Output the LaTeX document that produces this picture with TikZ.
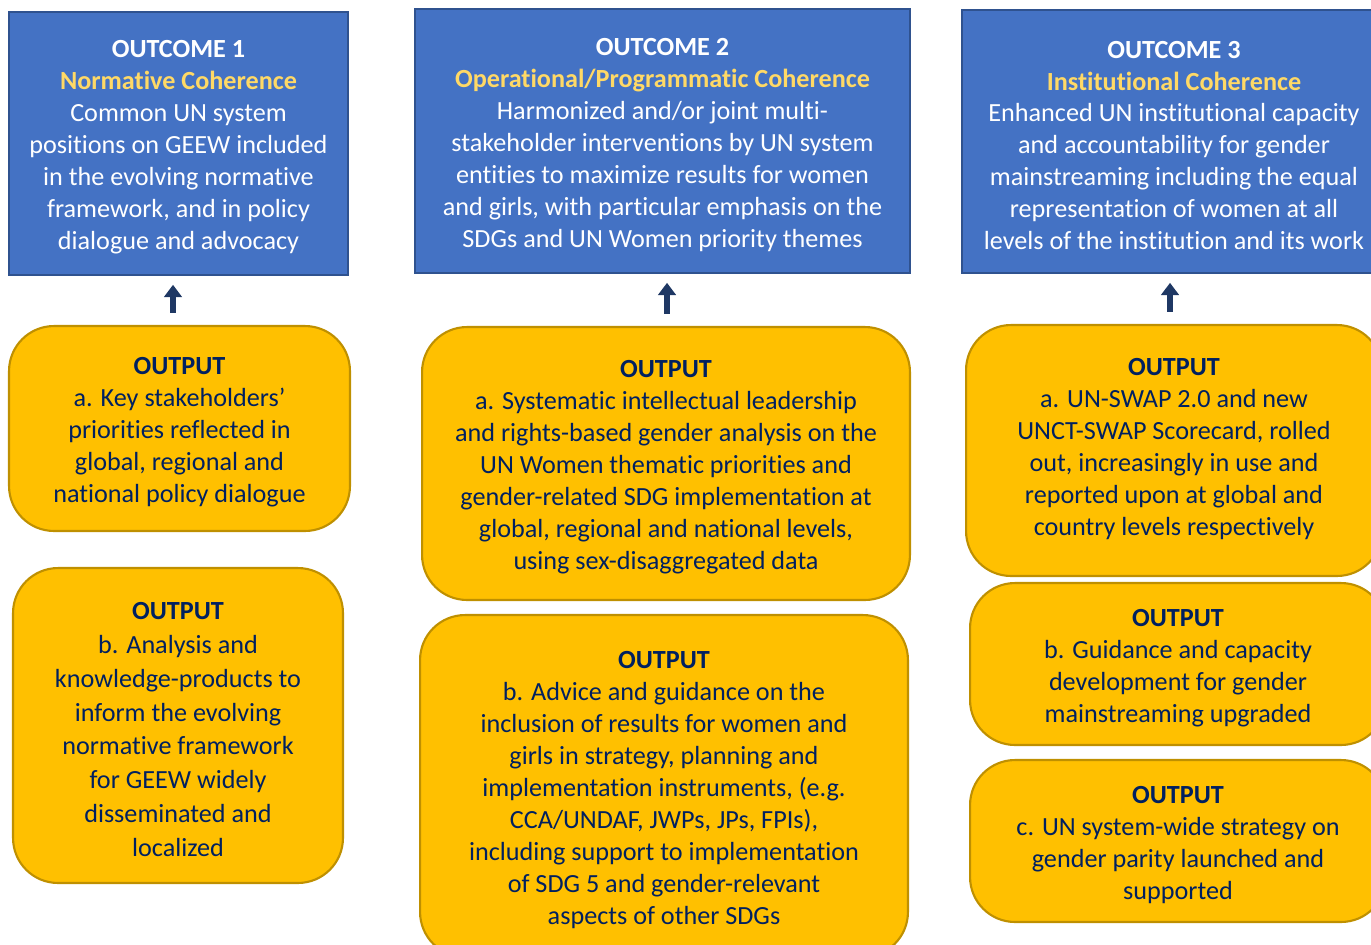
\documentclass[tikz,border=0pt]{standalone}
\usepackage{fontspec}
\setmainfont{Carlito}[Ligatures=NoCommon]
\usetikzlibrary{arrows.meta}
\definecolor{oc_blue}{RGB}{68, 114, 196}
\definecolor{oc_edge}{RGB}{47, 82, 143}
\definecolor{oc_title}{RGB}{255, 217, 102}
\definecolor{op_gold}{RGB}{255, 192, 0}
\definecolor{op_edge}{RGB}{191, 144, 0}
\definecolor{op_text}{RGB}{0, 32, 96}
\definecolor{up_arrow}{RGB}{31, 56, 100}
\tikzstyle{oc}=[rectangle,fill=oc_blue,draw=oc_edge,line width=1.2pt,
  text=white,align=center,inner sep=0pt,
  font=\fontsize{14.9}{18.2}\selectfont]
\tikzstyle{op}=[rectangle,rounded corners=0.9cm,fill=op_gold,draw=op_edge,
  line width=1.2pt,text=op_text,align=center,inner sep=0pt,
  font=\fontsize{14.9}{18.2}\selectfont]
\tikzstyle{up}=[draw=up_arrow,line width=3.2pt,
  -{Triangle[width=10pt,length=7pt]},shorten <=7pt,shorten >=5pt]
\newcommand{\hd}[1]{\rule{0pt}{14.3pt}\textbf{#1}}
\newcommand{\sub}[1]{\textbf{\color{oc_title}#1}}

\begin{document}
\begin{tikzpicture}[x=0.02cm,y=-0.02cm]
    \useasboundingbox (0,0) rectangle (1371,944);
    % outcomes
    \node [style=oc,minimum width=6.78cm,minimum height=5.26cm] (out1) at (178.5,143.5)
      {\hd{OUTCOME 1}\\ \sub{Normative Coherence}\\ Common UN system\\
       positions on GEEW included\\ in the evolving normative\\
       framework, and in policy\\ dialogue and advocacy};
    \node [style=oc,minimum width=9.9cm,minimum height=5.28cm] (out2) at (662.5,141)
      {\hd{OUTCOME 2}\\ \sub{Operational/Programmatic Coherence}\\
       Harmonized and/or joint multi-\\ stakeholder interventions by UN system\\
       entities to maximize results for women\\
       and girls, with particular emphasis on the\\ SDGs and UN Women priority themes};
    \node [style=oc,minimum width=8.48cm,minimum height=5.26cm] (out3) at (1174,141.5)
      {\hd{OUTCOME 3}\\ \sub{Institutional Coherence}\\
       Enhanced UN institutional capacity\\ and accountability for gender\\
       mainstreaming including the equal\\ representation of women at all\\
       levels of the institution and its work};
    % outputs
    \node [style=op,minimum width=6.82cm,minimum height=4.1cm] (op1a) at (179.5,428.5)
      {\hd{OUTPUT}\\ a. Key stakeholders'\\ priorities reflected in\\
       global, regional and\\ national policy dialogue};
    \node [style=op,minimum width=6.6cm,minimum height=6.3cm,
      font=\fontsize{14.9}{19.3}\selectfont] (op1b) at (178,725.5)
      {\hd{OUTPUT}\\ b. Analysis and\\ knowledge-products to\\ inform the evolving\\
       normative framework\\ for GEEW widely\\ disseminated and\\ localized};
    \node [style=op,minimum width=9.76cm,minimum height=5.46cm] (op2a) at (666,463.5)
      {\hd{OUTPUT}\\ a. Systematic intellectual leadership\\
       and rights-based gender analysis on the\\ UN Women thematic priorities and\\
       gender-related SDG implementation at\\ global, regional and national levels,\\
       using sex-disaggregated data};
    \node [style=op,minimum width=9.76cm,minimum height=6.84cm] (op2b) at (664,786)
      {\hd{OUTPUT}\\ b. Advice and guidance on the\\ inclusion of results for women and\\
       girls in strategy, planning and\\ implementation instruments, (e.g.\\
       CCA/UNDAF, JWPs, JPs, FPIs),\\ including support to implementation\\
       of SDG 5 and gender-relevant\\ aspects of other SDGs};
    \node [style=op,minimum width=8.32cm,minimum height=5.02cm] (op3a) at (1174,450.5)
      {\hd{OUTPUT}\\ a. UN-SWAP 2.0 and new\\ UNCT-SWAP Scorecard, rolled\\
       out, increasingly in use and\\ reported upon at global and\\
       country levels respectively\\[-10pt]};
    \node [style=op,minimum width=8.32cm,minimum height=3.24cm] (op3b) at (1178,664)
      {\hd{OUTPUT}\\ b. Guidance and capacity\\ development for gender\\
       mainstreaming upgraded};
    \node [style=op,minimum width=8.32cm,minimum height=3.24cm] (op3c) at (1178,841)
      {\hd{OUTPUT}\\ c. UN system-wide strategy on\\ gender parity launched and\\
       supported};
    % arrows
    \draw [style=up] ([xshift=-0.13cm]op1a.north) to ([xshift=-0.13cm]op1a.north |- out1.south);
    \draw [style=up] ([xshift=0.02cm]op2a.north) to ([xshift=0.02cm]op2a.north |- out2.south);
    \draw [style=up] ([xshift=-0.08cm]op3a.north) to ([xshift=-0.08cm]op3a.north |- out3.south);
  \end{tikzpicture}
\end{document}
